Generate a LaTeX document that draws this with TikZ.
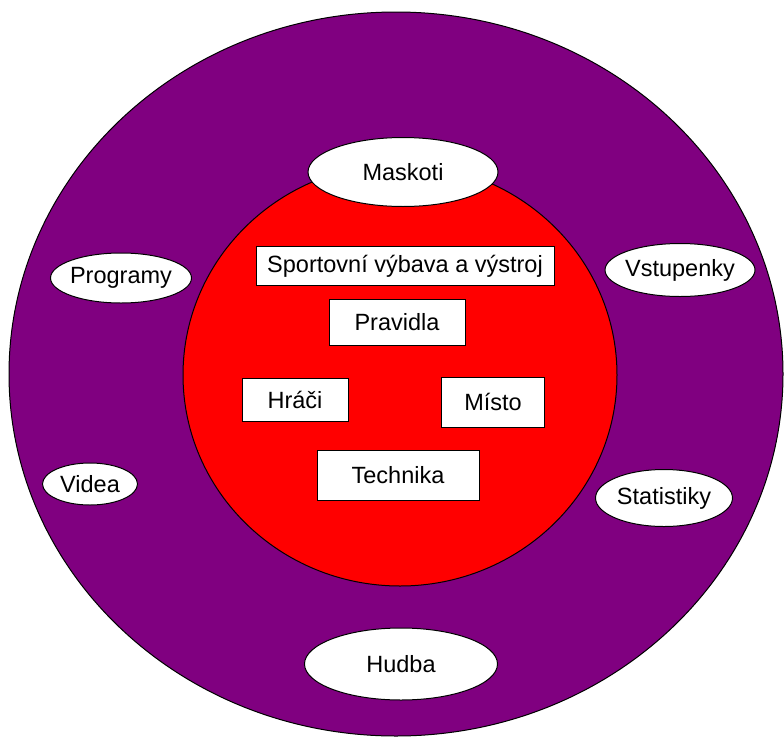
\documentclass[tikz,border=0pt]{standalone}
\usepackage{fontspec}
\setmainfont{Liberation Sans}
\usetikzlibrary{shapes.geometric, positioning}
\definecolor{outerRing}{HTML}{800080}
\definecolor{innerCore}{HTML}{FF0000}
\tikzset{
    ringOval/.style={ellipse, draw, fill=white, line width=1pt, inner sep=-20pt, font=\fontsize{23.5}{28}\selectfont},
    coreBox/.style={rectangle, draw, fill=white, line width=1pt, inner sep=0pt, font=\fontsize{23.5}{28}\selectfont},
}
\newcommand{\drawOval}[6]{
    \node[ringOval, minimum width=#4pt, minimum height=#5pt] (#1) at (#2, #3) {#6};
}
\newcommand{\drawBox}[6]{
    \node[coreBox, minimum width=#4pt, minimum height=#5pt] (#1) at (#2, #3) {#6};
}

\begin{document}
\begin{tikzpicture}[x=1pt, y=-1pt]

        \useasboundingbox (0, 0) rectangle (784, 739);

        % kruhy
        \draw[fill=outerRing, line width=1pt] (396, 374) ellipse [x radius=387, y radius=362];
        \draw[fill=innerCore, line width=1pt] (400, 375) ellipse [x radius=217, y radius=211];

        % vnejsi ovaly
        \drawOval{maskoti}{403}{172}{190}{69}{Maskoti}
        \drawOval{programy}{121}{278}{141}{50}{Programy}
        \drawOval{vstupenky}{680}{270}{150}{53}{Vstupenky}
        \drawOval{videa}{90}{484}{95}{42}{Videa}
        \drawOval{statistiky}{664}{498}{137}{57}{Statistiky}
        \drawOval{hudba}{401}{664}{193}{72}{Hudba}

        % vnitrni boxy
        \drawBox{vybava}{405}{266}{298}{39}{Sportovní výbava a výstroj}
        \drawBox{pravidla}{397}{322}{136}{46}{Pravidla}
        \drawBox{hraci}{295}{400}{106}{43}{Hráči}
        \drawBox{misto}{493}{402}{103}{50}{Místo}
        \drawBox{technika}{398}{475}{162}{50}{Technika}

    \end{tikzpicture}
\end{document}
